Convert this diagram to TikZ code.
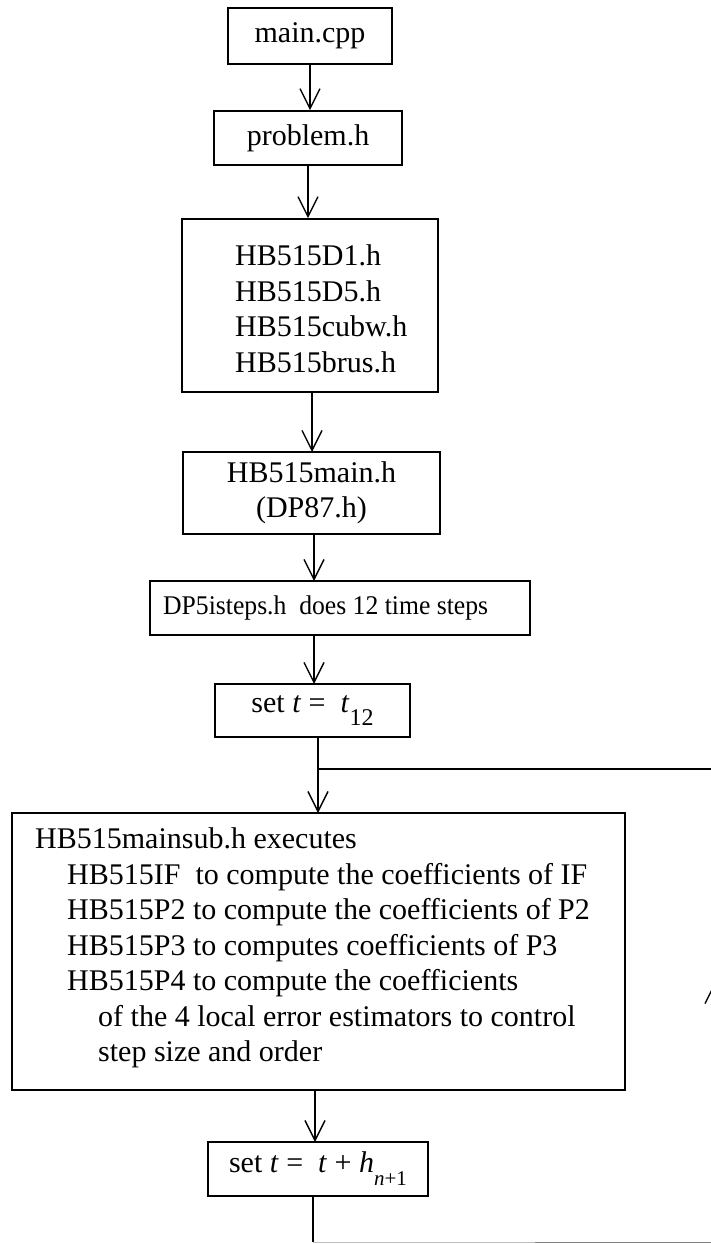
\documentclass[tikz,border=0pt]{standalone}
\usepackage{fontspec}
\setmainfont{Liberation Serif}
\usetikzlibrary{arrows.meta}
\newcommand{\subtxt}[2]{\raisebox{-13pt}{\fontsize{#1}{#1}\selectfont #2}}
\begin{document}
\begin{tikzpicture}[x=1pt,y=-1pt,
  box/.style={draw, line width=1.6pt, inner sep=0pt, align=center},
  txt/.style={inner sep=0pt, align=left},
  arr/.style={line width=1.4pt, -{Straight Barb[length=20pt,width=20pt,line width=1.4pt]}},
  ln/.style={line width=1.4pt},
  every node/.style={font=\fontsize{30}{35.5}\selectfont}]
\useasboundingbox (0,0) rectangle (711,1244);
\clip (0,0) rectangle (711,1244);

\node[box, minimum width=164pt, minimum height=56pt] (main) at (310,36) {main.cpp};
\node[box, minimum width=188pt, minimum height=54pt] (prob) at (308,138) {problem.h};
\node[box, minimum width=256pt, minimum height=173pt] (dbox) at (310,305.5) {};
\node[txt, anchor=west] (dtext) at (235,309) {HB515D1.h\\HB515D5.h\\HB515cubw.h\\HB515brus.h};
\node[box, minimum width=257pt, minimum height=82pt] (mainh) at (311.5,493) {HB515main.h\\(DP87.h)};
\node[box, minimum width=380pt, minimum height=54pt] (steps) at (340,608) {};
\node[txt, anchor=west] (stepstext) at (163,608) {\scalebox{0.95}[1]{\fontsize{27}{32}\selectfont DP5isteps.h\ \ does 12 time steps}};
\node[box, minimum width=195pt, minimum height=53pt] (set12) at (312.5,710.5) {set \textit{t} =\ \ \textit{t}\subtxt{24}{12}};
\node[box, minimum width=613pt, minimum height=277pt] (big) at (318.5,951.5) {};
\node[txt, anchor=west] (bigtext) at (35,948) {HB515mainsub.h executes\\
\hspace*{32pt}HB515IF\ \ to compute the coefficients of IF\\
\hspace*{32pt}HB515P2 to compute the coefficients of P2\\
\hspace*{32pt}HB515P3 to computes coefficients of P3\\
\hspace*{32pt}HB515P4 to compute the coefficients\\
\hspace*{63pt}of the 4 local error estimators to control\\
\hspace*{63pt}step size and order};
\node[box, minimum width=220pt, minimum height=54pt] (seth) at (318,1169) {set \textit{t} =\ \ \textit{t} + \textit{h}\subtxt{21}{\textit{n}+1}};

\coordinate (j1) at (318,769);
\coordinate (b1) at (313,1242);
\coordinate (b2) at (715,1242);
\coordinate (r1) at (715,982);
\coordinate (r2) at (715,769);

\draw[arr] (main.south) -- (main.south |- prob.north);
\draw[arr] (prob.south) -- (prob.south |- dbox.north);
\draw[arr] (312,392) -- (312,452) coordinate (dm);
\draw[arr] (314,534) -- (314,581);
\draw[arr] (314,635) -- (314,684);
\draw[ln] (318,737) -- (j1);
\draw[arr] (j1) -- (318,813);
\draw[arr] (315,1090) -- (315,1142);
\draw[ln] (313,1196) -- (b1);
\draw[line width=1pt, gray!50] (b1) -- (535,1242);
\draw[line width=1pt, gray] (535,1242) -- (b2);
\draw[arr] (b2) -- (r1);
\draw[ln] (r1) -- (r2) -- (j1);
\end{tikzpicture}
\end{document}
